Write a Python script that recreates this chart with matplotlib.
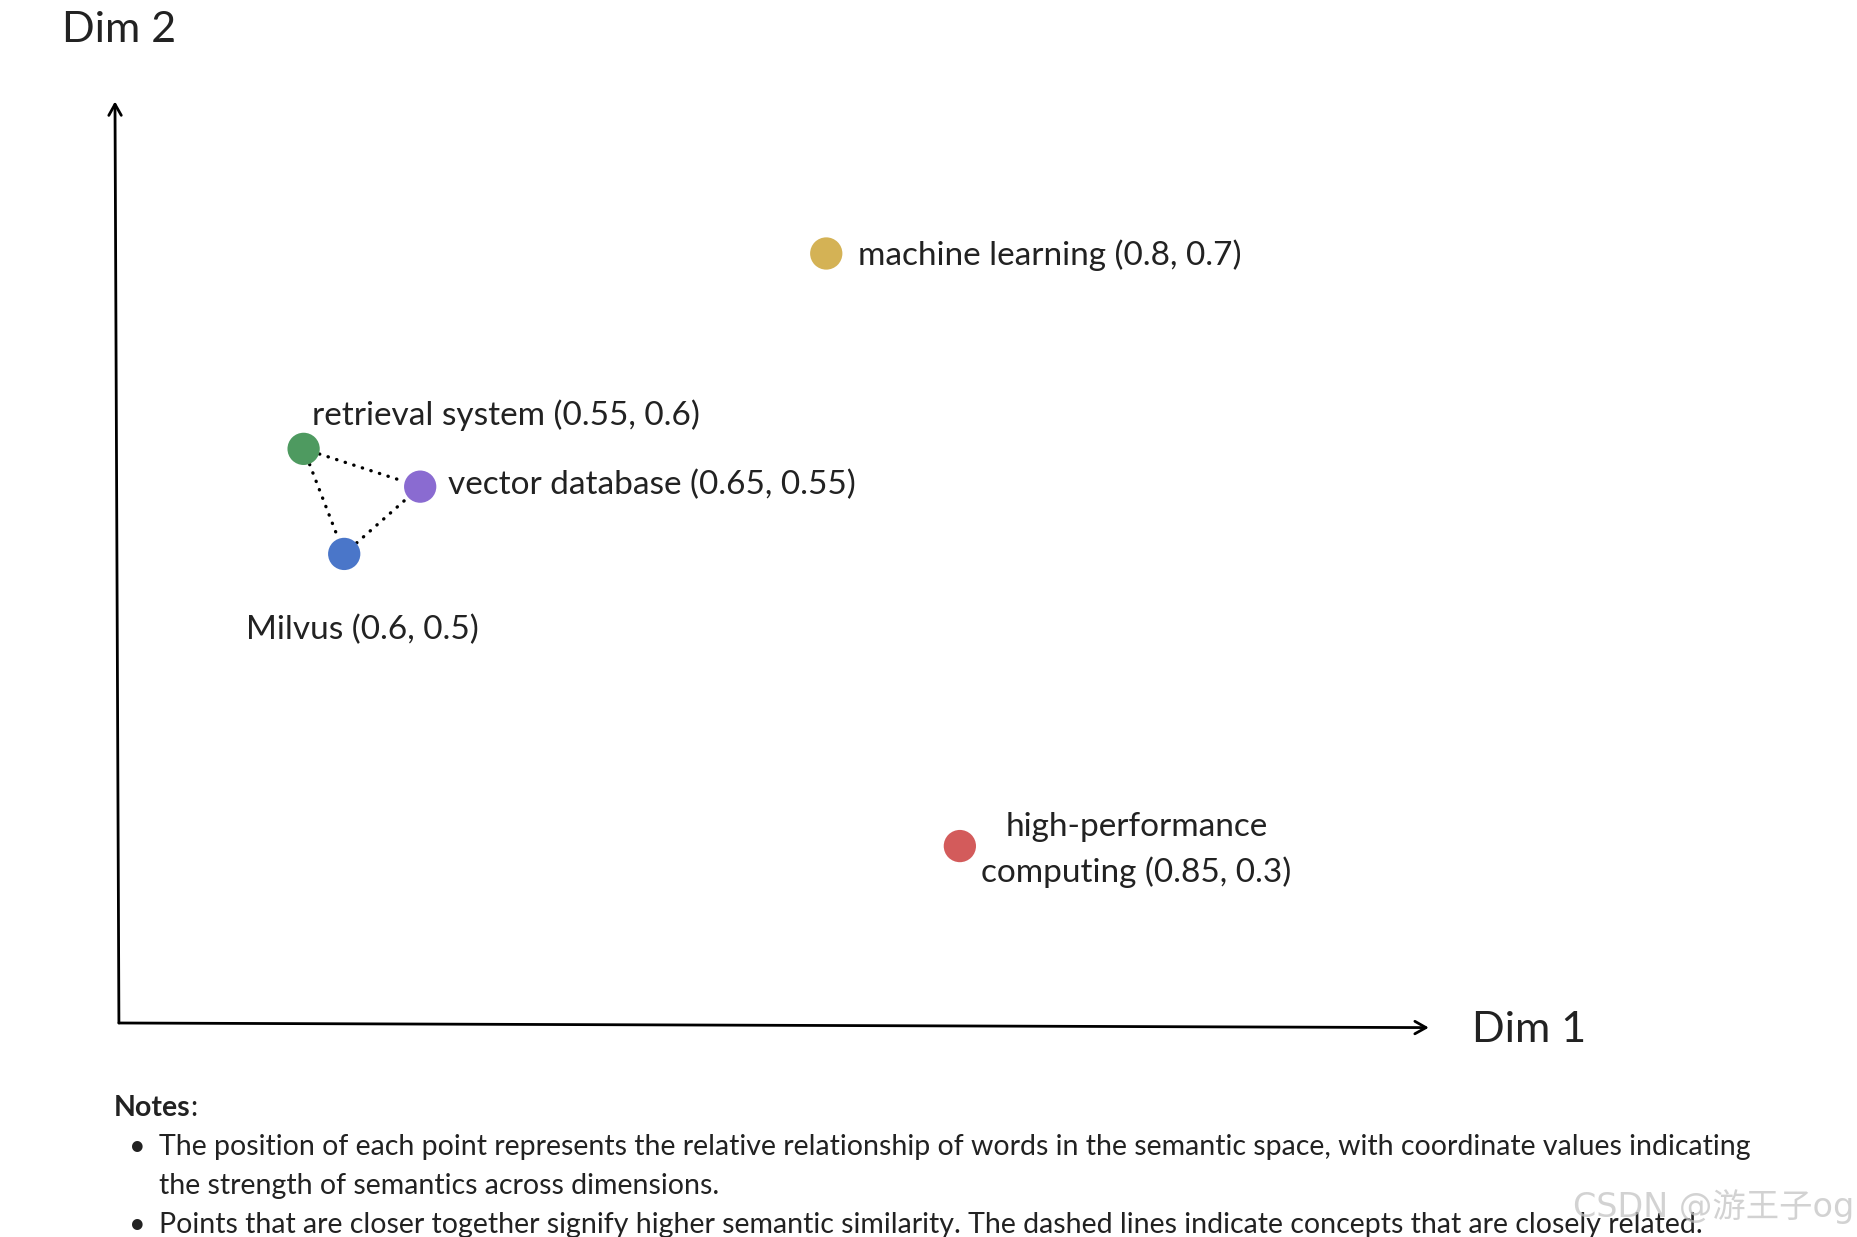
import matplotlib.pyplot as plt
from matplotlib.text import Annotation

plt.rcParams['font.family'] = ['Lato', 'DejaVu Sans']

# concept names, the coordinates quoted in their labels, and where the
# points sit in the drawing (fraction of each axis arrow)
concepts = ['machine learning', 'retrieval system', 'vector database',
            'Milvus', 'high-performance\ncomputing']
quoted = ['(0.8, 0.7)', '(0.55, 0.6)', '(0.65, 0.55)', '(0.6, 0.5)', '(0.85, 0.3)']
x_pos = [0.540, 0.141, 0.230, 0.172, 0.642]
y_pos = [0.835, 0.623, 0.582, 0.509, 0.192]
colors = ['#d4b255', '#4e9a60', '#8a6bd1', '#4a76c9', '#d35b5b']

# closely related pairs (dotted links)
links = [(1, 2), (1, 3), (3, 2)]

# note lines: (text, starts with a bullet)
note_lines = [
    ('The position of each point represents the relative relationship of words in the semantic space, with coordinate values indicating', True),
    ('the strength of semantics across dimensions.', False),
    ('Points that are closer together signify higher semantic similarity. The dashed lines indicate concepts that are closely related.', True),
]

txt = '#222222'
W, H = 1858, 1237

fig = plt.figure(figsize=(18.58, 12.37), dpi=100)
ax = fig.add_axes([0.064, 0.173, 0.705, 0.745])
ax.set_xlim(0, 1)
ax.set_ylim(0, 1)
ax.axis('off')

# axis arrows
head = '->,head_length=0.8,head_width=0.45'
ax.annotate('', xy=(-0.003, 1.0), xytext=(0.0, 0.0),
            arrowprops=dict(arrowstyle=head, lw=2, color='black', shrinkA=0, shrinkB=0),
            annotation_clip=False)
ax.annotate('', xy=(1.0, -0.005), xytext=(0.0, 0.0),
            arrowprops=dict(arrowstyle=head, lw=2, color='black', shrinkA=0, shrinkB=0),
            annotation_clip=False)

for a, b in links:
    ax.annotate('', xy=(x_pos[b], y_pos[b]), xytext=(x_pos[a], y_pos[a]),
                arrowprops=dict(arrowstyle='-', linestyle=(0, (0.1, 2.6)), lw=2.4,
                                capstyle='round', color='black', shrinkA=12, shrinkB=12))

ax.scatter(x_pos, y_pos, s=540, c=colors, zorder=3, linewidths=0)

# label offsets in points and alignment
offsets = [(23, -1.5, 'left'), (6, 24, 'left'), (20, 1.5, 'left'), (-71, -54.5, 'left'), (127, -3, 'center')]
for i, name in enumerate(concepts):
    dx, dy, ha = offsets[i]
    ax.annotate(f'{name} {quoted[i]}', (x_pos[i], y_pos[i]), xytext=(dx, dy),
                textcoords='offset points', ha=ha, va='center', fontsize=24,
                color=txt, linespacing=1.55, multialignment='center')

fig.text(62 / W, 1 - 30 / H, 'Dim 2', fontsize=31, color=txt, ha='left', va='center')
fig.text(1472 / W, 1 - 1030 / H, 'Dim 1', fontsize=31, color=txt, ha='left', va='center')

# notes block
nt = fig.text(114 / W, 1 - 1108 / H, 'Notes', fontsize=20.5, fontweight='bold', color=txt,
              ha='left', va='center')
fig.add_artist(Annotation(':', xy=(1, 0), xycoords=nt, ha='left', va='bottom',
                          fontsize=20.5, color=txt))

line_y = [1147, 1186, 1225]
for (line, bullet), y in zip(note_lines, line_y):
    if bullet:
        fig.text(137 / W, 1 - y / H, '•', fontsize=20.5, color=txt, ha='center', va='center')
    fig.text(159 / W, 1 - y / H, line, fontsize=20.5, color=txt, ha='left', va='center')

# watermark
fig.text(1573 / W, 1 - 1207 / H, 'CSDN @游王子og', fontsize=24, color='#c4c4c4',
         alpha=0.75, ha='left', va='center', family=['DejaVu Sans', 'Noto Sans CJK SC'])

fig.savefig('out.png', dpi=100)
